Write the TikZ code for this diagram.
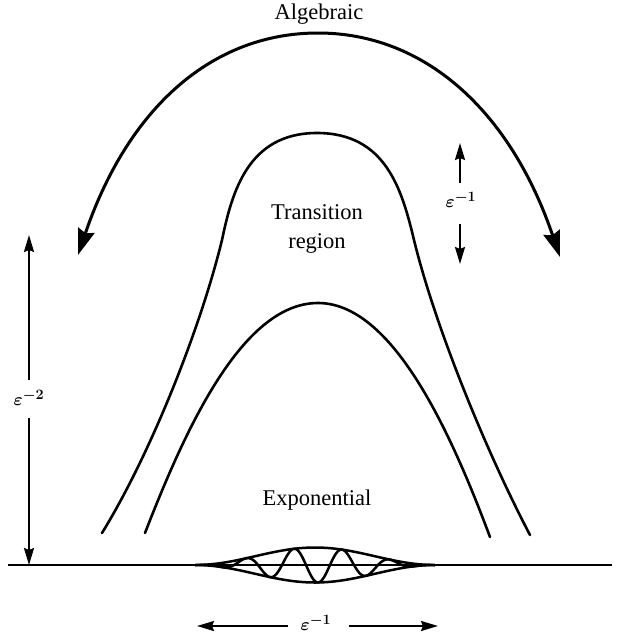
\documentclass[tikz,border=0pt]{standalone}
\usepackage{fontspec}
\setmainfont{Liberation Serif}
\usetikzlibrary{arrows.meta}
\tikzset{
  lbl/.style={inner sep=0pt, font=\fontsize{22.5}{27}\selectfont},
  mlbl/.style={inner sep=0pt, font=\fontsize{19}{22}\selectfont\boldmath},
  curve/.style={line width=2.6pt, line join=round, line cap=round},
  bigarc/.style={line width=3pt, {Stealth[length=26pt,width=17pt,inset=3pt]}-{Stealth[length=26pt,width=17pt,inset=3pt]}},
  dimarrow/.style={line width=2pt, -{Stealth[length=17pt,width=10pt,inset=2pt]}},
  base/.style={line width=2.4pt},
  wavy/.style={line width=2.5pt, line join=round}
}
\begin{document}
\begin{tikzpicture}[x=1pt,y=-1pt]
\useasboundingbox (0,0) rectangle (617,638);
% texts
\node[lbl] (alg) at (319,14) {Algebraic};
\node[lbl, align=center] (tr) at (317,212) {Transition};
\node[lbl] (reg) at (317,243) {region};
\node[lbl] (exp) at (317,500) {Exponential};
% big arc
\coordinate (algL) at (78,255);
\coordinate (algR) at (560,257);
\coordinate (algT) at (318,33);
\draw[bigarc] (algL) .. controls (128,108) and (212,33) .. (algT)
   .. controls (424,33) and (510,110) .. (algR);
% outer transition curve
\draw[curve] (102,533) .. controls (150,455) and (200,330) .. (222,240)
   .. controls (232,192) and (248,133) .. (317,133)
   .. controls (386,133) and (402,190) .. (414,240)
   .. controls (436,330) and (488,455) .. (530,535);
% inner curve
\draw[curve] (145,533) .. controls (185,430) and (242,303) .. (318,303)
   .. controls (392,303) and (450,430) .. (490,537);
% baseline
\coordinate (bl) at (8,565);
\coordinate (br) at (612,565);
\draw[base] (bl) -- (br);
% lens and wave packet
\draw[wavy] plot[domain=195:435, samples=121] (\x, {565 - 17.5*cos(0.75*(\x-315))*cos(0.75*(\x-315))});
\draw[wavy] plot[domain=195:435, samples=121] (\x, {565 + 17.5*cos(0.75*(\x-315))*cos(0.75*(\x-315))});
\draw[wavy] plot[domain=200:430, samples=231, smooth] (\x, {565 + 17.5*cos(0.75*(\x-315))*cos(0.75*(\x-315))*cos(7.5*(\x-318))});
% epsilon^-2 vertical arrow
\node[mlbl] (e2) at (29,398) {$\varepsilon^{-2}$};
\coordinate (e2top) at (29,235);
\coordinate (e2bot) at (29,565);
\draw[dimarrow] (29,380) -- (e2top);
\draw[dimarrow] (29,418) -- (e2bot);
% epsilon^-1 right arrows
\node[mlbl] (e1r) at (461,200) {$\varepsilon^{-1}$};
\coordinate (e1top) at (460,143);
\coordinate (e1bot) at (460,264);
\draw[dimarrow] (460,183) -- (e1top);
\draw[dimarrow] (460,224) -- (e1bot);
% epsilon^-1 bottom arrows
\node[mlbl] (e1b) at (316,623) {$\varepsilon^{-1}$};
\coordinate (e1l) at (197,626);
\coordinate (e1rr) at (438,626);
\draw[dimarrow] (288,626) -- (e1l);
\draw[dimarrow] (349,626) -- (e1rr);
\end{tikzpicture}
\end{document}
